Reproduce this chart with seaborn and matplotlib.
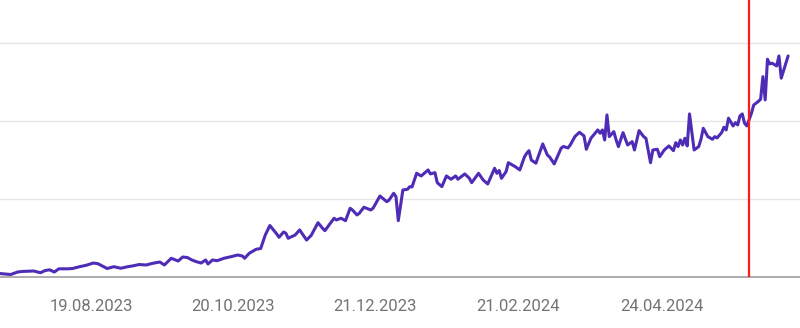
import matplotlib
matplotlib.use("Agg")
import matplotlib.pyplot as plt
import matplotlib.dates as mdates
import numpy as np
import pandas as pd
import seaborn as sns

# ---- data ----
start_date = "2023-07-10"
day_offsets = [
    0, 5, 8, 10, 15, 18, 20, 22, 24, 26, 30, 32, 35, 38, 41, 43, 47, 50, 53, 56,
    58, 61, 64, 67, 70, 72, 75, 78, 80, 82, 84, 86, 88, 90, 91, 93, 95, 98, 101, 104,
    106, 107, 109, 112, 114, 115, 116, 118, 119, 121, 122, 124, 125, 126, 129, 131, 134, 136, 139, 141,
    142, 146, 147, 149, 151, 153, 154, 156, 157, 159, 162, 163, 166, 169, 170, 172, 173, 174, 176, 178,
    179, 180, 182, 184, 185, 187, 188, 190, 191, 193, 195, 197, 199, 200, 203, 205, 206, 209, 211, 213,
    216, 217, 218, 219, 221, 222, 225, 227, 229, 230, 231, 232, 234, 237, 239, 240, 242, 245, 246, 248,
    249, 251, 253, 255, 256, 258, 261, 262, 263, 264, 265, 266, 268, 269, 270, 272, 274, 276, 277, 279,
    281, 282, 284, 285, 287, 288, 290, 292, 294, 295, 296, 297, 298, 299, 300, 301, 303, 305, 306, 307,
    309, 311, 312, 313, 315, 316, 317, 318, 320, 321, 322, 323, 324, 325, 326, 328, 329, 331, 332, 333,
    334, 335, 336, 337, 339, 340, 341, 344,
]
values = [
    4.5, 3.2, 6.4, 7.1, 7.7, 5.5, 8.3, 9.2, 6.4, 10.5, 10.5, 10.9, 13.2, 15.1, 17.9, 17.1, 10.9, 13.2, 11.2, 13.2,
    14.1, 16.0, 15.4, 17.6, 19.2, 15.4, 24.0, 20.5, 25.6, 25.0, 21.8, 19.6, 17.9, 21.8, 16.7, 21.8, 20.9, 24.0, 26.0, 28.2,
    26.9, 24.0, 30.4, 35.5, 36.5, 45.3, 53.8, 66.0, 62.4, 55.1, 50.9, 57.7, 56.0, 49.6, 53.8, 60.3, 47.4, 53.2, 69.6, 62.4,
    59.4, 75.3, 73.1, 75.3, 72.2, 88.1, 85.9, 79.5, 81.7, 89.4, 85.9, 88.1, 103.8, 96.5, 98.7, 107.3, 102.9, 72.2, 111.5, 112.4,
    115.8, 115.4, 132.9, 129.5, 132.1, 137.2, 132.1, 133.7, 120.9, 115.8, 129.5, 125.3, 129.5, 125.3, 132.1, 126.5, 120.9, 132.9, 124.4, 119.2,
    139.4, 132.9, 136.5, 126.5, 135.0, 146.5, 141.4, 137.2, 153.8, 158.6, 161.9, 150.0, 145.8, 170.5, 156.4, 153.8, 144.9, 165.0, 167.3, 165.4,
    169.2, 179.9, 185.5, 180.8, 163.7, 177.8, 188.5, 184.2, 188.5, 175.6, 207.7, 179.9, 186.3, 175.6, 167.1, 185.0, 169.2, 173.5, 162.8, 187.6,
    179.9, 177.8, 146.5, 162.8, 163.7, 154.2, 162.8, 168.0, 161.9, 172.2, 167.1, 175.6, 169.2, 177.8, 168.0, 209.0, 162.8, 167.1, 176.5, 190.6,
    179.9, 176.5, 179.9, 178.2, 185.0, 191.9, 188.5, 203.5, 193.6, 197.8, 194.9, 206.4, 209.0, 197.1, 193.6, 209.9, 220.5, 225.0, 227.8, 256.8,
    226.9, 279.1, 273.1, 274.0, 270.5, 283.3, 254.8, 283.3,
]
tick_dates = ["2023-08-19", "2023-10-20", "2023-12-21", "2024-02-21", "2024-04-24"]
tick_labels = ["19.08.2023", "20.10.2023", "21.12.2023", "21.02.2024", "24.04.2024"]
marker_date = "2024-06-01"
grid_values = [100, 200, 300]

# ---- build frame ----
t0 = pd.Timestamp(start_date)
df = pd.DataFrame({
    "date": t0 + pd.to_timedelta(day_offsets, unit="D"),
    "value": values,
})

sns.set_theme(style="white")
plt.rcParams["font.family"] = ["Roboto", "DejaVu Sans"]

fig = plt.figure(figsize=(8.0, 3.28), dpi=100)
ax = fig.add_axes([0.0, 51 / 328, 1.0, 277 / 328])

for g in grid_values:
    ax.axhline(g, color="#e6e6e6", linewidth=1.0, zorder=0)

sns.lineplot(data=df, x="date", y="value", ax=ax, color="#4f2cb5",
             linewidth=2.2, zorder=3)

ax.axvline(pd.Timestamp(marker_date), color="#ff1a1a", linewidth=1.6, zorder=4)

ax.set_xlim(t0 + pd.Timedelta(days=0.32), t0 + pd.Timedelta(days=349.18))
ax.set_ylim(0, 355)

ax.set_xticks(pd.to_datetime(tick_dates))
ax.set_xticklabels(tick_labels)
ax.set_yticks([])
ax.tick_params(axis="x", length=0, pad=16, labelsize=12, labelcolor="#737373")
ax.set_xlabel("")
ax.set_ylabel("")

for side in ["top", "left", "right"]:
    ax.spines[side].set_visible(False)
ax.spines["bottom"].set_color("#9e9e9e")
ax.spines["bottom"].set_linewidth(1.2)

fig.savefig("out.png", dpi=100)
